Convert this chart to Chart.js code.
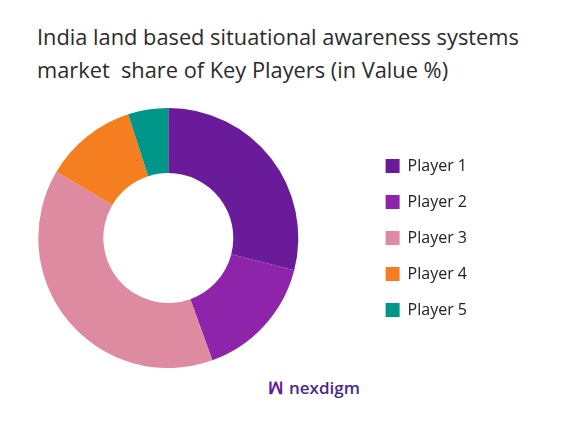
<!DOCTYPE html>
<html><head><meta charset="utf-8">
<script src="https://cdn.jsdelivr.net/npm/chart.js@4"></script>
<style>
body{margin:0;background:#fff;font-family:"Open Sans",sans-serif;width:572px;height:429px;position:relative;overflow:hidden}
#t{position:absolute;left:37px;top:20px;font-size:21.8px;line-height:33px;color:#2b2b2b}
#w{position:absolute;left:-29px;top:106px;width:506px;height:264px}
#logo{position:absolute;left:268px;top:376px;font-size:17px;color:#4a2a8a;font-weight:600}
#logo span{color:#6a1b9a;font-weight:700;margin-right:6px}
</style></head><body>
<div id="t">India land based situational awareness systems<br>market&nbsp; share of Key Players (in Value %)</div>
<div id="w"><canvas id="c"></canvas></div>
<div id="logo"><span>ꟽ</span>nexdigm</div>
<script>
const labels=["Player 1","Player 2","Player 3","Player 4","Player 5"];
const values=[29,15.5,39,11.5,5];
const colors=["#6a1b9a","#8e24aa","#de8aa0","#f57f20","#00968a"];
new Chart(document.getElementById('c'),{type:'doughnut',
data:{labels,datasets:[{data:values,backgroundColor:colors,borderWidth:0}]},
options:{responsive:true,maintainAspectRatio:false,animation:false,cutout:'50%',
layout:{padding:{top:2,bottom:2}},
plugins:{legend:{position:'right',labels:{boxWidth:14,boxHeight:14,padding:20,color:'#222',font:{family:'Open Sans',size:16}}},tooltip:{enabled:false}}}});
</script></body></html>
